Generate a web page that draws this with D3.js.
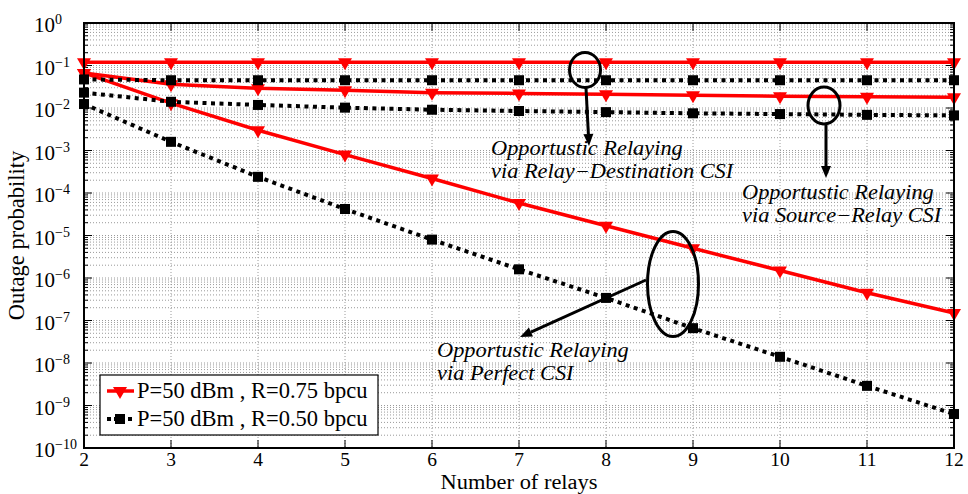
<!DOCTYPE html>
<html><head><meta charset="utf-8">
<script src="https://cdn.jsdelivr.net/npm/d3@7"></script>
<style>body{margin:0;background:#fff}svg{display:block}text{font-family:"Liberation Serif","Times New Roman",serif;fill:#000}</style>
</head><body><svg id="c" width="968" height="494"></svg>
<script>
const relays = [2,3,4,5,6,7,8,9,10,11,12];
const xTicks = [2,3,4,5,6,7,8,9,10,11,12];
const yExponents = [0,-1,-2,-3,-4,-5,-6,-7,-8,-9,-10];
// R=0.75 bpcu (red)
const red_RD = [0.119,0.119,0.119,0.119,0.119,0.119,0.119,0.119,0.119,0.119,0.119];
const red_SR = [0.067,0.036,0.029,0.026,0.023,0.022,0.021,0.020,0.019,0.0185,0.018];
const red_PF = [0.067,0.013,0.003,8e-4,2.2e-4,5.8e-5,1.7e-5,5e-6,1.5e-6,4.5e-7,1.5e-7];
// R=0.50 bpcu (black)
const blk_RD = [0.047,0.045,0.045,0.045,0.045,0.045,0.045,0.045,0.045,0.045,0.045];
const blk_SR = [0.023,0.014,0.0118,0.0102,0.0091,0.0085,0.008,0.0075,0.0072,0.0069,0.0067];
const blk_PF = [0.0124,1.6e-3,2.4e-4,4.2e-5,8e-6,1.6e-6,3.4e-7,6.6e-8,1.4e-8,2.9e-9,6.3e-10];
const legendLabels = ["P=50 dBm , R=0.75 bpcu","P=50 dBm , R=0.50 bpcu"];
const notes = [
  {lines:["Opportustic Relaying","via Relay\u2212Destination CSI"], x:491, y:155},
  {lines:["Opportustic Relaying","via Source\u2212Relay CSI"], x:742, y:199},
  {lines:["Opportustic Relaying","via Perfect CSI"], x:437, y:357}
];

const svg = d3.select("#c");
const L=84, R=954, T=23, B=448;
const x = d3.scaleLinear().domain([2,12]).range([L,R]);
const y = d3.scaleLog().domain([1e-10,1]).range([B,T]);

// grid
const g = svg.append("g");
const minors = [];
for (let e=-10;e<0;e++) for (let k=2;k<=9;k++) minors.push(k*Math.pow(10,e));
const majors = yExponents.map(e=>Math.pow(10,e));
g.selectAll(".hm").data(minors.concat(majors.slice(1,-1))).enter().append("line")
  .attr("x1",L).attr("x2",R).attr("y1",d=>y(d)).attr("y2",d=>y(d))
  .attr("stroke","#9a9a9a").attr("stroke-width",1).attr("stroke-dasharray","1,2");
g.selectAll(".vg").data(xTicks.slice(1,-1)).enter().append("line")
  .attr("x1",d=>x(d)).attr("x2",d=>x(d)).attr("y1",T).attr("y2",B)
  .attr("stroke","#9a9a9a").attr("stroke-width",1).attr("stroke-dasharray","1,2");

// ticks
const tk = svg.append("g").attr("stroke","#000").attr("stroke-width",1);
majors.forEach(v=>{
  tk.append("line").attr("x1",L).attr("x2",L+8).attr("y1",y(v)).attr("y2",y(v));
  tk.append("line").attr("x1",R).attr("x2",R-8).attr("y1",y(v)).attr("y2",y(v));
});
minors.forEach(v=>{
  tk.append("line").attr("x1",L).attr("x2",L+4).attr("y1",y(v)).attr("y2",y(v));
  tk.append("line").attr("x1",R).attr("x2",R-4).attr("y1",y(v)).attr("y2",y(v));
});
xTicks.forEach(v=>{
  tk.append("line").attr("x1",x(v)).attr("x2",x(v)).attr("y1",B).attr("y2",B-8);
  tk.append("line").attr("x1",x(v)).attr("x2",x(v)).attr("y1",T).attr("y2",T+8);
});

// lines
const line = d3.line().x((d,i)=>x(relays[i])).y(d=>y(d));
const series = [
  {d:red_RD,c:"#ff0000",dash:null,m:"tri"},
  {d:red_SR,c:"#ff0000",dash:null,m:"tri"},
  {d:red_PF,c:"#ff0000",dash:null,m:"tri"},
  {d:blk_RD,c:"#000",dash:"4,4.5",m:"sq"},
  {d:blk_SR,c:"#000",dash:"4,4.5",m:"sq"},
  {d:blk_PF,c:"#000",dash:"4,4.5",m:"sq"}
];
const triPath = "M-7,-4L7,-4L0,8Z";
function marker(sel,type,c,cx,cy){
  if(type==="tri") sel.append("path").attr("d",triPath).attr("transform",`translate(${cx},${cy})`).attr("fill",c);
  else sel.append("rect").attr("x",cx-5).attr("y",cy-5).attr("width",10).attr("height",10).attr("fill",c);
}
const plot = svg.append("g");
series.forEach(s=>{
  plot.append("path").datum(s.d).attr("d",line).attr("fill","none").attr("stroke",s.c)
    .attr("stroke-width",s.m==="tri"?3.5:4).attr("stroke-dasharray",s.dash);
});
series.forEach(s=>{
  s.d.forEach((v,i)=>marker(plot,s.m,s.c,x(relays[i]),y(v)));
});

// box
svg.append("rect").attr("x",L).attr("y",T).attr("width",R-L).attr("height",B-T)
  .attr("fill","none").attr("stroke","#000").attr("stroke-width",2);

// tick labels
xTicks.forEach(v=>{
  svg.append("text").attr("x",x(v)).attr("y",466).attr("text-anchor","middle")
    .attr("font-size",19.5).text(v);
});
yExponents.forEach(e=>{
  const yy = y(Math.pow(10,e));
  svg.append("text").attr("x",34).attr("y",yy+9).attr("font-size",21).text("10");
  svg.append("text").attr("x",55).attr("y",yy+1).attr("font-size",14)
    .text(e===0?"0":"\u2212"+(-e));
});
svg.append("text").attr("x",x(7)).attr("y",489).attr("text-anchor","middle")
  .attr("font-size",20.5).attr("textLength",157).attr("lengthAdjust","spacingAndGlyphs")
  .text("Number of relays");
svg.append("text").attr("transform",`translate(24,${(T+B)/2}) rotate(-90)`)
  .attr("text-anchor","middle").attr("font-size",22.5).text("Outage probability");

// annotations
const ann = svg.append("g").attr("stroke","#000").attr("stroke-width",3).attr("fill","none");
ann.append("ellipse").attr("cx",585).attr("cy",70).attr("rx",15.5).attr("ry",17.5);
ann.append("ellipse").attr("cx",824).attr("cy",105.5).attr("rx",16).attr("ry",18.5);
ann.append("ellipse").attr("cx",673).attr("cy",284).attr("rx",25.5).attr("ry",52.5);
function arrow(x1,y1,x2,y2){
  const a = Math.atan2(y2-y1,x2-x1), len=12, w=5;
  const bx = x2-len*Math.cos(a), by = y2-len*Math.sin(a);
  ann.append("line").attr("x1",x1).attr("y1",y1).attr("x2",bx).attr("y2",by);
  svg.append("path").attr("fill","#000")
    .attr("d",`M${x2},${y2}L${bx+w*Math.sin(a)},${by-w*Math.cos(a)}L${bx-w*Math.sin(a)},${by+w*Math.cos(a)}Z`);
}
arrow(586,88,589,146);
arrow(826,125,826,178);
arrow(646,280,520,337);
notes.forEach(n=>{
  n.lines.forEach((t,i)=>{
    const txt = svg.append("text").attr("x",n.x).attr("y",n.y+i*23).attr("font-size",20.5)
      .attr("font-style","italic").text(t);
    txt.attr("textLength", txt.node().getComputedTextLength()*1.09).attr("lengthAdjust","spacingAndGlyphs");
  });
});

// legend
const lg = svg.append("g");
lg.append("rect").attr("x",100).attr("y",375).attr("width",278).attr("height",60)
  .attr("fill","#fff").attr("stroke","#000").attr("stroke-width",1.2);
const ls = [{c:"#ff0000",m:"tri",dash:null,w:3.5},{c:"#000",m:"sq",dash:"4,3",w:4}];
ls.forEach((s,i)=>{
  const yy = 391+i*28;
  lg.append("line").attr("x1",107).attr("x2",134).attr("y1",yy).attr("y2",yy)
    .attr("stroke",s.c).attr("stroke-width",s.w).attr("stroke-dasharray",s.dash);
  marker(lg,s.m,s.c,120,yy);
  lg.append("text").attr("x",137).attr("y",yy+7).attr("font-size",22.5).text(legendLabels[i]);
});
</script></body></html>
